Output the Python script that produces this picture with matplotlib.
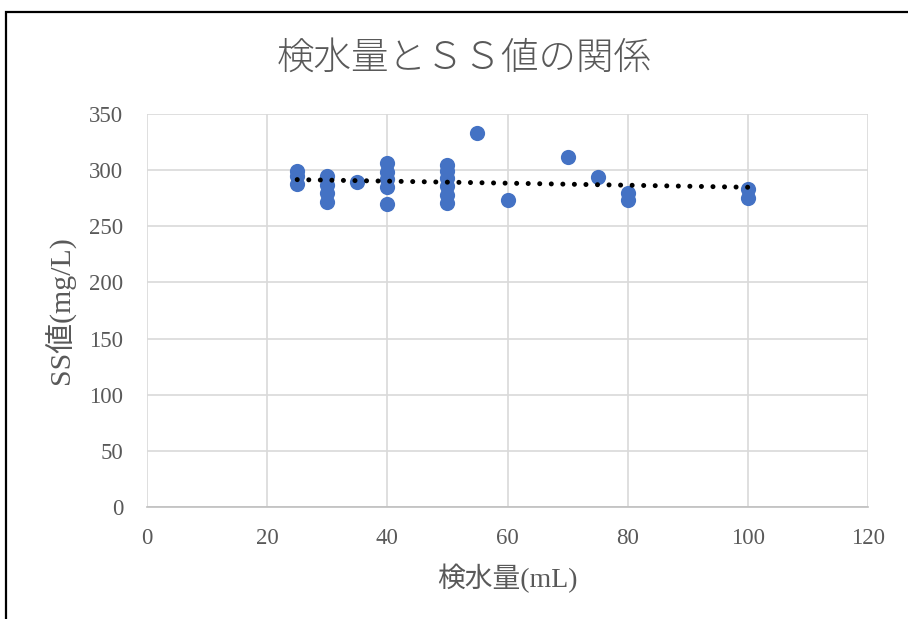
import numpy as np
import matplotlib
matplotlib.use("Agg")
import matplotlib.pyplot as plt
from matplotlib.patches import Rectangle

plt.rcParams['font.family'] = ['Liberation Serif', 'Noto Sans CJK JP', 'DejaVu Sans']

# 検水量 (mL) and SS値 (mg/L)
volume_ml = [25, 25, 25,
             30, 30, 30, 30,
             35,
             40, 40, 40, 40, 40,
             50, 50, 50, 50, 50, 50,
             55, 60, 70, 75,
             80, 80,
             100, 100]
ss_mg_l = [299, 295, 288,
           295, 287, 280, 272,
           289,
           306, 298, 292, 285, 270,
           305, 299, 293, 286, 278, 271,
           333, 273, 312, 294,
           280, 273,
           283, 275]

title = "検水量とＳＳ値の関係"
x_label = "検水量(mL)"
y_label = "SS値(mg/L)"
x_ticks = [0, 20, 40, 60, 80, 100, 120]
y_ticks = [0, 50, 100, 150, 200, 250, 300, 350]

gray = "#595959"
grid_gray = "#d9d9d9"
blue = "#4472C4"

fig = plt.figure(figsize=(9.08, 6.19), dpi=100)
ax = fig.add_axes([147 / 908, 1 - 507 / 619, (868 - 147) / 908, (507 - 114) / 619])

ax.scatter(volume_ml, ss_mg_l, s=120, color=blue, zorder=3, linewidths=0)

# linear trend line over the measured range
coef = np.polyfit(volume_ml, ss_mg_l, 1)
xs = np.array([min(volume_ml), max(volume_ml)])
ax.plot(xs, np.polyval(coef, xs), color="black", linewidth=3.6,
        linestyle=(0, (0.01, 2.3)), dash_capstyle="round", zorder=4)

ax.set_xlim(0, 120)
ax.set_ylim(0, 350)
ax.set_xticks(x_ticks)
ax.set_yticks(y_ticks)
ax.grid(True, color=grid_gray, linewidth=1.2)
ax.set_axisbelow(True)
for side in ["top", "right", "left"]:
    ax.spines[side].set_visible(False)
ax.spines["bottom"].set_color("#bfbfbf")
ax.spines["bottom"].set_linewidth(1.2)
ax.tick_params(length=0, labelsize=16.5, labelcolor=gray)
ax.tick_params(axis="x", pad=15)
ax.tick_params(axis="y", pad=17)

ax.set_xlabel(x_label, fontsize=20, color=gray, labelpad=11)
ax.set_ylabel(y_label, fontsize=21.5, color=gray, labelpad=10)

fig.text(464 / 908, 1 - 58 / 619, title, fontsize=27, color=gray,
         ha="center", va="center", weight="light",
         family=['Noto Sans CJK JP', 'DejaVu Sans'])

# chart border
fig.patches.append(Rectangle((6 / 908, -0.1), 1.1, 1 - 12 / 619 + 0.1,
                             transform=fig.transFigure, fill=False,
                             edgecolor="black", linewidth=1.6))

fig.savefig("out.png", dpi=100)
